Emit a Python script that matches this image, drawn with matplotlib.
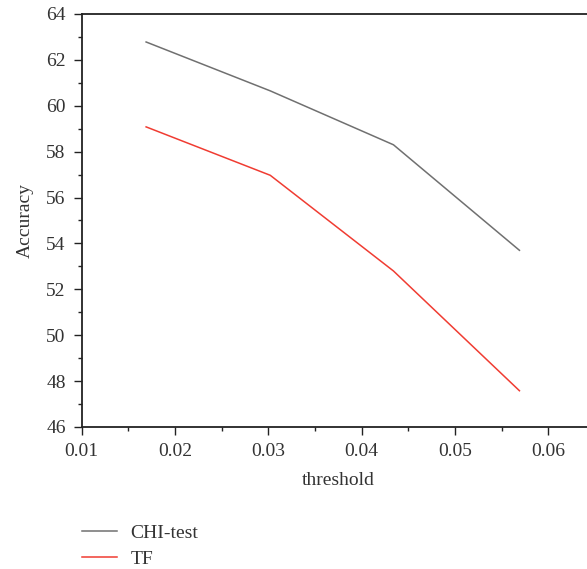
import matplotlib
matplotlib.use("Agg")
import matplotlib.pyplot as plt
from matplotlib.ticker import MultipleLocator

plt.rcParams['font.family'] = ['Liberation Serif', 'DejaVu Serif']

thresholds = [0.0169, 0.0302, 0.0434, 0.0569]
chi_test = [62.78, 60.65, 58.3, 53.7]
tf = [59.08, 56.97, 52.8, 47.58]
series_names = ["CHI-test", "TF"]

text_color = '#333333'
fig = plt.figure(figsize=(5.87, 5.69), dpi=100)
ax = fig.add_axes([0.1392, 0.2496, 0.8745, 0.7258])

ax.plot(thresholds, chi_test, color='#707070', lw=1.1, label=series_names[0])
ax.plot(thresholds, tf, color='#f03c32', lw=1.1, label=series_names[1])

ax.set_xlim(0.01, 0.065)
ax.set_ylim(46, 64)
ax.xaxis.set_major_locator(MultipleLocator(0.01))
ax.xaxis.set_minor_locator(MultipleLocator(0.005))
ax.yaxis.set_major_locator(MultipleLocator(2))
ax.yaxis.set_minor_locator(MultipleLocator(1))
ax.xaxis.set_major_formatter(matplotlib.ticker.FuncFormatter(lambda v, p: f"{v:.2f}"))

for s in ['left', 'bottom', 'top']:
    ax.spines[s].set_color('#222222')
    ax.spines[s].set_linewidth(1.3)
ax.spines['right'].set_visible(False)

ax.tick_params(which='major', direction='out', length=5.5, width=1.0, colors='#222222',
               labelcolor=text_color, labelsize=14, pad=6)
ax.tick_params(which='minor', direction='out', length=3, width=1.0, colors='#222222')

ax.set_xlabel('threshold', fontsize=14, color=text_color, labelpad=9)
ax.set_ylabel('Accuracy', fontsize=14, color=text_color, labelpad=9)

fig.legend(loc='center left', bbox_to_anchor=(0.1392, 0.04), frameon=False,
           fontsize=14, handlelength=1.8, handletextpad=0.7, borderpad=0,
           borderaxespad=0, labelspacing=0.45, labelcolor=text_color)

fig.savefig('out.png', dpi=100)
